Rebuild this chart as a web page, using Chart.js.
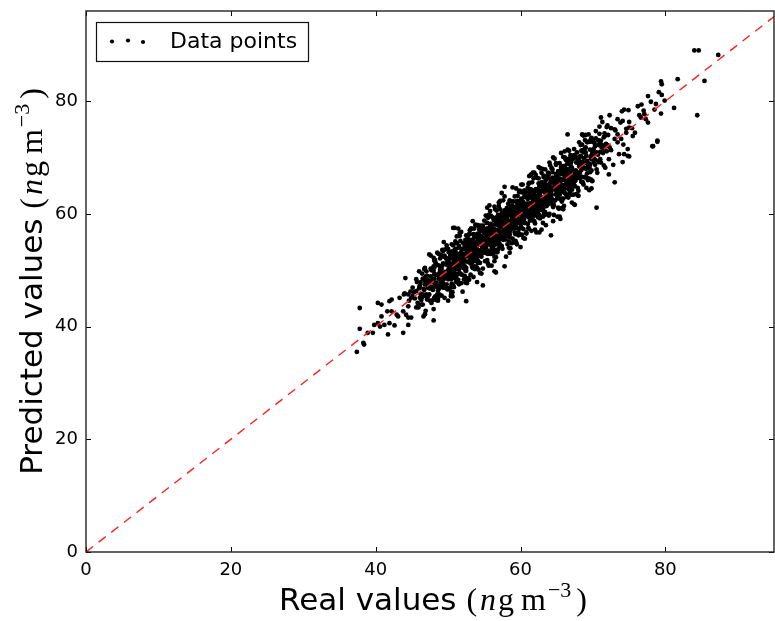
<!DOCTYPE html>
<html>
<head>
<meta charset="utf-8">
<script src="https://cdn.jsdelivr.net/npm/chart.js@4.4.1/dist/chart.umd.min.js"></script>
<style>
  html, body { margin: 0; padding: 0; background: #fff; }
  canvas { display: block; }
</style>
</head>
<body>
<canvas id="scatterChart" width="775" height="621"></canvas>
<script>
// axis ticks
const xTicks = [0, 20, 40, 60, 80];
const yTicks = [0, 20, 40, 60, 80];

// identity line y = x
const lineReal = [0, 95];
const linePredicted = [0, 95];

// low tail of the cloud
const tailReal = [
  37.4, 38.3, 38.4, 37.8, 37.8, 38.9, 39.6, 39.8, 40.3, 40.6,
  40.8, 41.7, 41.2, 41.9, 42.6, 41.6, 42.2, 42.9, 43.1, 42.2,
  43.3, 41.9, 43.8, 44.5, 44.5, 43.8, 44.1, 43.9, 44.5, 44.9,
  45.6, 46.3, 46.8, 48.0, 45.1, 45.6, 46.1, 46.8, 47.2, 46.5,
  47.4, 46.8, 47.0, 48.1, 48.8, 50.4, 40.8, 40.3,
  55.7, 50.7, 47.4, 50.6, 52.5, 54.8, 56.6, 57.8, 58.5, 59.4,
  52.9, 54.1, 53.0, 49.3
];
const tailPredicted = [
  35.5, 37.1, 36.8, 43.3, 39.6, 38.9, 38.9, 40.3, 40.6, 40.0,
  41.8, 38.6, 40.3, 40.6, 40.2, 42.7, 42.7, 42.1, 41.8, 44.8,
  45.1, 44.5, 42.7, 41.6, 40.3, 38.9, 48.6, 45.7, 45.7, 45.1,
  43.4, 43.9, 42.2, 41.1, 46.9, 46.3, 47.2, 47.5, 46.9, 45.7,
  45.7, 50.4, 49.8, 45.1, 45.7, 45.4, 43.9, 44.2,
  61.5, 57.5, 52.8, 45.4, 44.5, 47.3, 49.6, 50.7, 53.1, 54.9,
  48.3, 58.0, 57.1, 53.4
];

// main body of the cloud
const coreReal = [
  44.2, 44.8, 45.1, 44.5, 45.6, 44.9, 45.3, 44.0, 45.8, 44.6,
  46.1, 45.4, 46.7, 45.9, 47.0, 46.4, 45.7, 46.9, 47.3, 46.2,
  47.5, 48.1, 47.2, 47.8, 48.4, 47.6, 48.0, 48.7, 47.9, 48.3,
  48.9, 48.5, 49.2, 48.2, 49.5, 48.8, 49.0, 49.7, 48.6, 49.3,
  49.4, 50.1, 49.8, 50.3, 49.6, 50.0, 50.6, 49.9, 50.4, 49.1,
  50.7, 50.2, 51.0, 50.5, 51.3, 50.8, 51.1, 50.4, 51.6, 50.9,
  51.4, 51.8, 51.2, 52.0, 51.5, 52.3, 51.7, 51.9, 52.2, 51.3,
  52.6, 52.1, 52.9, 52.4, 53.2, 52.7, 53.0, 52.5, 53.4, 52.8,
  53.3, 53.9, 53.6, 54.1, 53.5, 54.4, 53.8, 54.0, 53.1, 54.3,
  54.6, 54.2, 55.0, 54.8, 55.3, 54.5, 55.1, 54.9, 55.4, 54.7,
  55.6, 55.2, 56.0, 55.8, 56.3, 55.5, 56.1, 55.9, 56.4, 55.7,
  56.5, 56.9, 57.2, 56.2, 57.0, 56.7, 57.4, 56.6, 57.1, 56.8,
  57.6, 58.0, 57.3, 58.2, 57.8, 58.4, 57.5, 58.1, 57.9, 58.5,
  58.7, 59.0, 58.3, 59.2, 58.9, 59.5, 58.6, 59.3, 58.8, 59.6,
  59.8, 60.1, 59.4, 60.3, 59.7, 60.5, 59.9, 60.2, 60.0, 60.6,
  60.7, 61.0, 60.4, 61.2, 60.8, 61.5, 60.9, 61.3, 61.1, 61.6,
  61.8, 62.1, 61.4, 62.3, 61.7, 62.5, 61.9, 62.2, 62.0, 62.6,
  62.8, 63.1, 62.4, 63.3, 62.7, 63.5, 62.9, 63.2, 63.0, 63.6,
  63.8, 64.1, 63.4, 64.3, 63.7, 64.5, 63.9, 64.2, 64.0, 64.6,
  64.8, 65.1, 64.4, 65.3, 64.7, 65.5, 64.9, 65.2, 65.0, 65.6,
  65.8, 66.1, 65.4, 66.3, 65.7, 66.5, 65.9, 66.2, 66.0, 66.6,
  66.8, 67.1, 66.4, 67.3, 66.7, 67.5, 66.9, 67.2, 67.0, 67.6,
  67.8, 68.1, 67.4, 68.3, 67.7, 68.5, 67.9, 68.2, 68.0, 68.6,
  68.8, 69.1, 68.4, 69.3, 68.7, 69.5, 68.9, 69.2, 69.0, 69.6,
  69.8, 70.1, 69.7, 70.4, 70.0, 70.6, 69.9, 70.3, 70.8, 71.0,
  71.2, 71.6, 71.9, 72.2, 71.4, 72.5, 71.7, 72.8, 72.0, 73.1,
  73.4, 73.8, 74.2, 74.6, 73.6, 75.0, 74.0, 75.4, 75.8, 76.2,
  46.3, 46.8, 47.1, 46.5, 47.4, 46.0, 46.9, 47.2, 46.6, 47.5,
  47.7, 48.2, 48.6, 47.9, 48.9, 48.4, 48.0, 48.7, 47.6, 49.0,
  49.2, 49.7, 50.2, 49.5, 50.5, 49.9, 50.3, 49.3, 50.0, 50.6,
  50.8, 51.2, 51.7, 51.0, 51.9, 51.4, 50.6, 51.8, 51.1, 52.0,
  52.3, 52.7, 53.1, 52.5, 53.4, 52.9, 53.2, 52.2, 53.0, 53.5,
  53.7, 54.1, 54.5, 53.9, 54.8, 54.3, 53.6, 54.7, 54.0, 55.0,
  55.2, 55.7, 56.1, 55.4, 56.4, 55.9, 55.1, 56.3, 55.6, 56.5,
  56.7, 57.1, 57.6, 56.9, 57.8, 57.3, 56.6, 57.7, 57.0, 58.0,
  58.2, 58.7, 59.1, 58.4, 59.4, 58.9, 58.1, 59.3, 58.6, 59.5,
  59.7, 60.2, 60.6, 59.9, 60.9, 60.4, 59.6, 60.8, 60.1, 61.0,
  61.2, 61.7, 62.1, 61.4, 62.4, 61.9, 61.1, 62.3, 61.6, 62.5,
  62.7, 63.2, 63.6, 62.9, 63.9, 63.4, 62.6, 63.8, 63.1, 64.0,
  64.2, 64.7, 65.1, 64.4, 65.4, 64.9, 64.1, 65.3, 64.6, 65.5,
  65.7, 66.2, 66.6, 65.9, 66.9, 66.4, 65.6, 66.8, 66.1, 67.0,
  67.2, 67.7, 68.1, 67.4, 68.4, 67.9, 67.1, 68.3, 67.6, 68.5,
  68.8, 69.3, 69.7, 69.0, 70.0, 69.5, 68.7, 69.9, 69.2, 70.3,
  48.1, 48.5, 48.9, 49.3, 48.3, 48.7, 49.1, 49.5, 48.6, 49.0,
  49.6, 50.0, 50.4, 50.8, 49.8, 50.2, 50.6, 51.0, 50.1, 50.5,
  51.1, 51.5, 51.9, 52.3, 51.3, 51.7, 52.1, 52.5, 51.6, 52.0,
  52.6, 53.0, 53.4, 53.8, 52.8, 53.2, 53.6, 54.0, 53.1, 53.5,
  54.1, 54.5, 54.9, 55.3, 54.3, 54.7, 55.1, 55.5, 54.6, 55.0,
  55.6, 56.0, 56.4, 56.8, 55.8, 56.2, 56.6, 57.0, 56.1, 56.5,
  57.1, 57.5, 57.9, 58.3, 57.3, 57.7, 58.1, 58.5, 57.6, 58.0,
  58.6, 59.0, 59.4, 59.8, 58.8, 59.2, 59.6, 60.0, 59.1, 59.5,
  60.1, 60.5, 60.9, 61.3, 60.3, 60.7, 61.1, 61.5, 60.6, 61.0,
  61.6, 62.0, 62.4, 62.8, 61.8, 62.2, 62.6, 63.0, 62.1, 62.5,
  63.1, 63.5, 63.9, 64.3, 63.3, 63.7, 64.1, 64.5, 63.6, 64.0,
  64.6, 65.0, 65.4, 65.8, 64.8, 65.2, 65.6, 66.0, 65.1, 65.5,
  66.1, 66.5, 66.9, 67.3, 66.3, 66.7, 67.1, 67.5, 66.6, 67.0,
  67.6, 68.0, 68.4, 68.8, 67.8, 68.2, 68.6, 69.0, 68.1, 68.5,
  54.4, 55.2, 55.8, 54.8, 55.5, 56.2, 54.2, 55.0, 55.9, 56.4,
  57.2, 58.4, 57.8, 58.9, 57.4, 58.2, 59.3, 57.9, 58.6, 59.1,
  60.4, 61.2, 61.8, 60.8, 61.5, 62.2, 60.2, 61.0, 61.9, 62.4,
  52.4, 53.2, 53.8, 52.8, 53.5, 54.2, 52.2, 53.0, 53.9, 54.4
];
const corePredicted = [
  42.1, 46.2, 45.4, 43.6, 48.4, 41.6, 46.1, 45.9, 44.2, 44.6,
  47.2, 45.0, 50.2, 43.4, 47.6, 45.2, 47.9, 42.8, 47.5, 47.9,
  46.8, 50.5, 45.3, 48.3, 45.4, 48.9, 52.2, 48.5, 46.5, 51.2,
  49.8, 45.7, 50.8, 47.7, 52.6, 47.1, 49.1, 52.2, 45.0, 49.0,
  48.4, 50.8, 47.5, 52.3, 49.5, 53.8, 49.1, 50.9, 45.6, 49.5,
  53.0, 49.1, 51.6, 47.3, 52.5, 50.2, 53.8, 48.4, 56.6, 50.0,
  49.3, 53.2, 51.5, 51.1, 54.3, 49.0, 52.5, 53.8, 50.6, 51.3,
  53.7, 51.7, 56.4, 49.9, 53.8, 51.5, 55.2, 48.4, 53.6, 54.5,
  52.6, 56.3, 51.7, 54.6, 50.5, 55.7, 58.0, 53.8, 51.7, 57.2,
  55.5, 51.4, 56.6, 54.3, 58.4, 52.8, 55.2, 57.4, 51.8, 54.4,
  54.6, 55.9, 53.7, 57.8, 56.2, 59.3, 54.6, 56.9, 51.6, 56.1,
  58.8, 55.8, 57.8, 53.0, 58.2, 56.1, 60.1, 54.6, 62.1, 55.9,
  55.5, 59.4, 57.6, 57.3, 60.6, 55.1, 58.3, 60.0, 56.3, 58.5,
  59.8, 58.6, 61.8, 56.7, 59.5, 58.3, 60.8, 55.2, 59.0, 61.3,
  59.1, 62.5, 57.5, 60.8, 56.7, 61.8, 64.1, 60.0, 58.6, 63.5,
  61.6, 58.2, 62.0, 60.7, 63.9, 59.8, 61.0, 63.8, 57.5, 61.3,
  60.8, 62.8, 59.1, 64.3, 61.6, 66.3, 60.4, 63.2, 57.2, 63.0,
  65.1, 62.0, 63.0, 60.1, 63.9, 62.9, 65.6, 61.2, 68.0, 62.7,
  61.7, 65.5, 63.7, 63.4, 66.5, 61.2, 64.7, 66.1, 62.4, 64.6,
  65.9, 64.7, 67.9, 62.8, 65.3, 64.3, 67.1, 61.1, 65.2, 67.3,
  65.1, 68.5, 63.5, 66.8, 62.7, 67.8, 70.1, 66.0, 64.6, 69.5,
  67.7, 64.3, 68.0, 66.8, 69.8, 65.8, 67.0, 69.7, 63.4, 67.3,
  66.8, 68.8, 65.1, 70.3, 67.6, 72.3, 66.4, 69.2, 63.2, 69.0,
  71.1, 68.0, 69.0, 66.1, 69.9, 68.9, 71.6, 67.2, 74.0, 68.7,
  67.7, 71.5, 70.0, 69.5, 72.8, 67.3, 70.7, 72.2, 69.2, 71.0,
  72.3, 71.2, 75.4, 69.7, 72.0, 71.3, 73.9, 68.7, 72.2, 74.8,
  72.7, 76.2, 72.3, 75.1, 70.6, 76.3, 78.2, 75.2, 74.4, 79.1,
  45.3, 47.5, 44.8, 48.5, 47.3, 49.8, 45.4, 48.2, 41.8, 47.9,
  50.0, 47.1, 49.2, 44.7, 50.1, 47.8, 50.7, 46.7, 52.6, 48.1,
  47.1, 51.1, 50.5, 48.6, 53.3, 46.6, 51.1, 51.2, 48.4, 50.6,
  51.9, 50.8, 55.2, 48.5, 52.5, 50.2, 52.8, 47.7, 51.3, 53.7,
  51.6, 55.1, 51.2, 53.0, 50.4, 54.2, 57.4, 52.0, 51.6, 56.4,
  54.6, 51.3, 56.1, 53.4, 57.9, 52.6, 53.7, 57.2, 50.4, 54.7,
  54.2, 56.4, 53.8, 57.4, 56.3, 59.7, 53.6, 57.3, 50.8, 56.9,
  59.0, 56.0, 58.2, 53.7, 59.0, 56.7, 59.3, 55.7, 62.0, 57.1,
  56.1, 60.1, 59.4, 57.5, 62.2, 55.6, 58.9, 61.2, 57.0, 59.5,
  60.8, 59.8, 64.1, 57.4, 61.5, 59.2, 61.8, 56.7, 60.3, 62.7,
  60.5, 64.1, 60.2, 61.9, 59.4, 63.2, 65.3, 62.1, 60.2, 65.4,
  63.6, 60.4, 65.2, 62.4, 67.0, 61.7, 62.7, 66.3, 59.5, 63.7,
  63.2, 65.4, 62.8, 66.4, 65.3, 68.7, 62.6, 66.3, 59.8, 65.9,
  68.0, 65.1, 67.2, 62.7, 68.1, 65.8, 68.3, 64.8, 71.1, 66.1,
  65.1, 69.1, 68.4, 66.5, 71.2, 64.6, 67.9, 70.2, 66.0, 68.5,
  69.9, 68.9, 73.2, 66.5, 70.6, 68.3, 70.9, 65.8, 69.4, 72.0,
  48.5, 47.3, 50.7, 49.0, 49.2, 46.7, 50.2, 48.8, 50.9, 47.5,
  49.1, 51.5, 48.6, 51.0, 51.9, 49.3, 51.2, 48.6, 51.3, 50.4,
  52.4, 51.3, 50.8, 54.9, 50.7, 52.0, 50.4, 54.2, 49.4, 52.7,
  53.0, 51.8, 55.2, 53.5, 53.7, 51.2, 54.7, 53.3, 55.4, 52.0,
  53.6, 56.0, 53.1, 55.5, 56.4, 53.8, 55.7, 53.1, 55.8, 54.9,
  56.9, 55.8, 55.3, 59.4, 55.2, 56.5, 54.9, 58.7, 53.9, 57.2,
  57.5, 56.3, 59.7, 58.0, 58.2, 55.7, 59.2, 57.8, 59.9, 56.5,
  58.1, 60.5, 57.6, 60.0, 60.9, 58.3, 60.2, 57.6, 60.3, 59.4,
  61.4, 60.3, 59.8, 63.9, 59.7, 61.0, 59.4, 63.2, 58.4, 61.7,
  62.0, 60.8, 64.2, 62.5, 62.7, 60.2, 63.7, 62.3, 64.4, 61.0,
  62.6, 65.0, 62.1, 64.5, 65.4, 62.8, 64.7, 62.1, 64.8, 63.9,
  65.9, 64.8, 64.3, 68.4, 64.2, 65.5, 63.9, 67.7, 62.9, 66.2,
  66.5, 65.3, 68.7, 67.0, 67.2, 64.7, 68.2, 66.8, 68.9, 65.5,
  67.1, 69.5, 66.6, 69.0, 69.9, 67.3, 69.2, 66.6, 69.3, 68.4,
  54.8, 54.0, 57.6, 54.5, 56.4, 54.2, 55.3, 54.3, 58.2, 54.9,
  56.7, 59.9, 56.0, 59.1, 59.5, 57.3, 59.9, 55.5, 59.8, 59.0,
  61.7, 61.0, 60.7, 63.4, 60.9, 62.5, 58.5, 62.7, 59.7, 63.1,
  53.7, 53.0, 52.7, 55.4, 52.9, 54.5, 50.5, 54.7, 51.7, 55.1
];

// the nearly solid centre of the band
const denseReal = [
  46.0, 46.3, 46.6, 46.9, 46.2, 46.5, 46.8, 46.1, 46.4, 46.7,
  47.0, 47.3, 47.6, 47.9, 47.2, 47.5, 47.8, 47.1, 47.4, 47.7,
  48.0, 48.3, 48.6, 48.9, 48.2, 48.5, 48.8, 48.1, 48.4, 48.7,
  49.0, 49.3, 49.6, 49.9, 49.2, 49.5, 49.8, 49.1, 49.4, 49.7,
  50.0, 50.3, 50.6, 50.9, 50.2, 50.5, 50.8, 50.1, 50.4, 50.7,
  51.0, 51.3, 51.6, 51.9, 51.2, 51.5, 51.8, 51.1, 51.4, 51.7,
  52.0, 52.3, 52.6, 52.9, 52.2, 52.5, 52.8, 52.1, 52.4, 52.7,
  53.0, 53.3, 53.6, 53.9, 53.2, 53.5, 53.8, 53.1, 53.4, 53.7,
  54.0, 54.3, 54.6, 54.9, 54.2, 54.5, 54.8, 54.1, 54.4, 54.7,
  55.0, 55.3, 55.6, 55.9, 55.2, 55.5, 55.8, 55.1, 55.4, 55.7,
  56.0, 56.3, 56.6, 56.9, 56.2, 56.5, 56.8, 56.1, 56.4, 56.7,
  57.0, 57.3, 57.6, 57.9, 57.2, 57.5, 57.8, 57.1, 57.4, 57.7,
  58.0, 58.3, 58.6, 58.9, 58.2, 58.5, 58.8, 58.1, 58.4, 58.7,
  59.0, 59.3, 59.6, 59.9, 59.2, 59.5, 59.8, 59.1, 59.4, 59.7,
  60.0, 60.3, 60.6, 60.9, 60.2, 60.5, 60.8, 60.1, 60.4, 60.7,
  61.0, 61.3, 61.6, 61.9, 61.2, 61.5, 61.8, 61.1, 61.4, 61.7,
  62.0, 62.3, 62.6, 62.9, 62.2, 62.5, 62.8, 62.1, 62.4, 62.7,
  63.0, 63.3, 63.6, 63.9, 63.2, 63.5, 63.8, 63.1, 63.4, 63.7,
  64.0, 64.3, 64.6, 64.9, 64.2, 64.5, 64.8, 64.1, 64.4, 64.7,
  65.0, 65.3, 65.6, 65.9, 65.2, 65.5, 65.8, 65.1, 65.4, 65.7,
  66.0, 66.3, 66.6, 66.9, 66.2, 66.5, 66.8, 66.1, 66.4, 66.7,
  67.0, 67.3, 67.6, 67.9, 67.2, 67.5, 67.8, 67.1, 67.4, 67.7,
  68.0, 68.3, 68.6, 68.9, 68.2, 68.5, 68.8, 68.1, 68.4, 68.7,
  69.0, 69.3, 69.6, 69.9, 69.2, 69.5, 69.8, 69.1, 69.4, 69.7,
  70.0, 70.3, 70.6, 70.9, 70.2, 70.5, 70.8, 70.1, 70.4, 70.7,
  71.0, 71.3, 71.6, 71.9, 71.2, 71.5, 71.8, 71.1, 71.4, 71.7,
  50.7, 50.2, 50.9, 50.4, 50.1, 50.6, 50.3, 50.8, 50.5, 50.0,
  51.7, 51.2, 51.9, 51.4, 51.1, 51.6, 51.3, 51.8, 51.5, 51.0,
  52.7, 52.2, 52.9, 52.4, 52.1, 52.6, 52.3, 52.8, 52.5, 52.0,
  53.7, 53.2, 53.9, 53.4, 53.1, 53.6, 53.3, 53.8, 53.5, 53.0,
  54.7, 54.2, 54.9, 54.4, 54.1, 54.6, 54.3, 54.8, 54.5, 54.0,
  55.7, 55.2, 55.9, 55.4, 55.1, 55.6, 55.3, 55.8, 55.5, 55.0,
  56.7, 56.2, 56.9, 56.4, 56.1, 56.6, 56.3, 56.8, 56.5, 56.0,
  57.7, 57.2, 57.9, 57.4, 57.1, 57.6, 57.3, 57.8, 57.5, 57.0,
  58.7, 58.2, 58.9, 58.4, 58.1, 58.6, 58.3, 58.8, 58.5, 58.0,
  59.7, 59.2, 59.9, 59.4, 59.1, 59.6, 59.3, 59.8, 59.5, 59.0,
  60.7, 60.2, 60.9, 60.4, 60.1, 60.6, 60.3, 60.8, 60.5, 60.0,
  61.7, 61.2, 61.9, 61.4, 61.1, 61.6, 61.3, 61.8, 61.5, 61.0,
  62.7, 62.2, 62.9, 62.4, 62.1, 62.6, 62.3, 62.8, 62.5, 62.0,
  63.7, 63.2, 63.9, 63.4, 63.1, 63.6, 63.3, 63.8, 63.5, 63.0,
  64.7, 64.2, 64.9, 64.4, 64.1, 64.6, 64.3, 64.8, 64.5, 64.0,
  65.7, 65.2, 65.9, 65.4, 65.1, 65.6, 65.3, 65.8, 65.5, 65.0,
  66.7, 66.2, 66.9, 66.4, 66.1, 66.6, 66.3, 66.8, 66.5, 66.0
];
const densePredicted = [
  46.8, 44.7, 46.7, 48.9, 45.8, 43.9, 48.2, 45.1, 49.4, 46.5,
  45.7, 47.8, 50.3, 47.1, 48.2, 44.6, 48.0, 49.0, 46.8, 44.2,
  49.9, 47.4, 46.4, 49.6, 51.8, 47.1, 48.7, 49.3, 45.3, 49.2,
  49.8, 47.7, 49.7, 51.9, 48.8, 46.9, 51.2, 48.1, 52.4, 49.5,
  48.7, 50.8, 53.3, 50.1, 51.2, 47.6, 51.0, 52.0, 49.8, 47.2,
  52.9, 50.4, 49.4, 52.6, 54.8, 50.1, 51.7, 52.3, 48.3, 52.2,
  52.8, 50.7, 52.7, 54.9, 51.8, 49.9, 54.2, 51.1, 55.4, 52.5,
  51.7, 53.8, 56.3, 53.1, 54.2, 50.6, 54.0, 55.0, 52.8, 50.2,
  55.9, 53.4, 52.4, 55.6, 57.8, 53.1, 54.7, 55.3, 51.3, 55.2,
  55.8, 53.7, 55.7, 57.9, 54.8, 52.9, 57.2, 54.1, 58.4, 55.5,
  54.7, 56.8, 59.3, 56.1, 57.2, 53.6, 57.0, 58.0, 55.8, 53.2,
  58.9, 56.4, 55.4, 58.6, 60.8, 56.1, 57.7, 58.3, 54.3, 58.2,
  58.8, 56.7, 58.7, 60.9, 57.8, 55.9, 60.2, 57.1, 61.4, 58.5,
  57.7, 59.8, 62.3, 59.1, 60.2, 56.6, 60.0, 61.0, 58.8, 56.2,
  61.9, 59.4, 58.4, 61.6, 63.8, 59.1, 60.7, 61.3, 57.3, 61.2,
  61.8, 59.7, 61.7, 63.9, 60.8, 58.9, 63.2, 60.1, 64.4, 61.5,
  60.7, 62.8, 65.3, 62.1, 63.2, 59.6, 63.0, 64.0, 61.8, 59.2,
  64.9, 62.4, 61.4, 64.6, 66.8, 62.1, 63.7, 64.3, 60.3, 64.2,
  64.8, 62.7, 64.7, 66.9, 63.8, 61.9, 66.2, 63.1, 67.4, 64.5,
  63.7, 65.8, 68.3, 65.1, 66.2, 62.6, 66.0, 67.0, 64.8, 62.2,
  67.9, 65.4, 64.4, 67.6, 69.8, 65.1, 66.7, 67.3, 63.3, 67.2,
  67.8, 65.7, 67.7, 69.9, 66.8, 64.9, 69.2, 66.1, 70.4, 67.5,
  66.7, 68.8, 71.3, 68.1, 69.2, 65.6, 69.0, 70.0, 67.8, 65.2,
  70.9, 68.4, 67.4, 70.6, 72.8, 68.1, 69.7, 70.3, 66.3, 70.2,
  70.8, 68.7, 70.7, 72.9, 69.8, 67.9, 72.2, 69.1, 73.4, 70.5,
  69.7, 71.8, 74.3, 71.1, 72.2, 68.6, 72.0, 73.0, 70.8, 68.2,
  51.0, 49.4, 52.0, 48.5, 50.7, 52.8, 49.9, 49.5, 52.1, 50.0,
  51.1, 53.0, 51.7, 52.3, 48.7, 52.0, 52.6, 50.8, 54.0, 49.3,
  53.7, 52.3, 51.4, 54.4, 51.4, 52.5, 53.9, 53.3, 50.4, 52.8,
  54.0, 52.4, 55.0, 51.5, 53.7, 55.8, 52.9, 52.5, 55.1, 53.0,
  54.1, 56.0, 54.7, 55.3, 51.7, 55.0, 55.6, 53.8, 57.0, 52.3,
  56.7, 55.3, 54.4, 57.4, 54.4, 55.5, 56.9, 56.3, 53.4, 55.8,
  57.0, 55.4, 58.0, 54.5, 56.7, 58.8, 55.9, 55.5, 58.1, 56.0,
  57.1, 59.0, 57.7, 58.3, 54.7, 58.0, 58.6, 56.8, 60.0, 55.3,
  59.7, 58.3, 57.4, 60.4, 57.4, 58.5, 59.9, 59.3, 56.4, 58.8,
  60.0, 58.4, 61.0, 57.5, 59.7, 61.8, 58.9, 58.5, 61.1, 59.0,
  60.1, 62.0, 60.7, 61.3, 57.7, 61.0, 61.6, 59.8, 63.0, 58.3,
  62.7, 61.3, 60.4, 63.4, 60.4, 61.5, 62.9, 62.3, 59.4, 61.8,
  63.0, 61.4, 64.0, 60.5, 62.7, 64.8, 61.9, 61.5, 64.1, 62.0,
  63.1, 65.0, 63.7, 64.3, 60.7, 64.0, 64.6, 62.8, 66.0, 61.3,
  65.7, 64.3, 63.4, 66.4, 63.4, 64.5, 65.9, 65.3, 62.4, 64.8,
  66.0, 64.4, 67.0, 63.5, 65.7, 67.8, 64.9, 64.5, 67.1, 65.0,
  66.1, 68.0, 66.7, 67.3, 63.7, 67.0, 67.6, 65.8, 69.0, 64.3
];

// looser points along the edges of the band
const edgeReal = [
  48.1, 48.6, 48.3, 48.8, 48.5, 48.0, 48.9, 48.4, 48.7, 48.2,
  49.1, 49.6, 49.3, 49.8, 49.5, 49.0, 49.9, 49.4, 49.7, 49.2,
  50.1, 50.6, 50.3, 50.8, 50.5, 50.0, 50.9, 50.4, 50.7, 50.2,
  51.1, 51.6, 51.3, 51.8, 51.5, 51.0, 51.9, 51.4, 51.7, 51.2,
  52.1, 52.6, 52.3, 52.8, 52.5, 52.0, 52.9, 52.4, 52.7, 52.2,
  53.1, 53.6, 53.3, 53.8, 53.5, 53.0, 53.9, 53.4, 53.7, 53.2,
  54.1, 54.6, 54.3, 54.8, 54.5, 54.0, 54.9, 54.4, 54.7, 54.2,
  55.1, 55.6, 55.3, 55.8, 55.5, 55.0, 55.9, 55.4, 55.7, 55.2,
  56.1, 56.6, 56.3, 56.8, 56.5, 56.0, 56.9, 56.4, 56.7, 56.2,
  57.1, 57.6, 57.3, 57.8, 57.5, 57.0, 57.9, 57.4, 57.7, 57.2,
  58.1, 58.6, 58.3, 58.8, 58.5, 58.0, 58.9, 58.4, 58.7, 58.2,
  59.1, 59.6, 59.3, 59.8, 59.5, 59.0, 59.9, 59.4, 59.7, 59.2,
  60.1, 60.6, 60.3, 60.8, 60.5, 60.0, 60.9, 60.4, 60.7, 60.2,
  61.1, 61.6, 61.3, 61.8, 61.5, 61.0, 61.9, 61.4, 61.7, 61.2,
  62.1, 62.6, 62.3, 62.8, 62.5, 62.0, 62.9, 62.4, 62.7, 62.2,
  63.1, 63.6, 63.3, 63.8, 63.5, 63.0, 63.9, 63.4, 63.7, 63.2,
  64.1, 64.6, 64.3, 64.8, 64.5, 64.0, 64.9, 64.4, 64.7, 64.2,
  65.1, 65.6, 65.3, 65.8, 65.5, 65.0, 65.9, 65.4, 65.7, 65.2,
  66.1, 66.6, 66.3, 66.8, 66.5, 66.0, 66.9, 66.4, 66.7, 66.2,
  67.1, 67.6, 67.3, 67.8, 67.5, 67.0, 67.9, 67.4, 67.7, 67.2,
  68.1, 68.6, 68.3, 68.8, 68.5, 68.0, 68.9, 68.4, 68.7, 68.2,
  69.1, 69.6, 69.3, 69.8, 69.5, 69.0, 69.9, 69.4, 69.7, 69.2
];
const edgePredicted = [
  51.7, 44.6, 51.2, 45.5, 53.1, 43.1, 52.1, 44.7, 52.9, 45.3,
  45.5, 53.7, 46.9, 54.4, 45.1, 52.7, 46.8, 55.0, 47.0, 53.6,
  53.2, 46.1, 52.7, 47.0, 54.6, 44.6, 53.6, 46.2, 54.4, 46.8,
  47.9, 56.1, 49.3, 56.8, 47.5, 55.1, 49.2, 57.4, 49.4, 56.0,
  54.8, 47.7, 54.3, 48.6, 56.2, 46.2, 55.2, 47.8, 56.0, 48.4,
  49.2, 57.4, 50.6, 58.1, 48.8, 56.4, 50.5, 58.7, 50.7, 57.3,
  56.5, 49.4, 56.0, 50.3, 57.9, 47.9, 56.9, 49.5, 57.7, 50.1,
  51.6, 59.8, 53.0, 60.5, 51.2, 58.8, 52.9, 61.1, 53.1, 59.7,
  59.4, 52.3, 58.9, 53.2, 60.8, 50.8, 59.8, 52.4, 60.6, 53.0,
  54.2, 62.4, 55.6, 63.1, 53.8, 61.4, 55.5, 63.7, 55.7, 62.3,
  61.0, 53.9, 60.5, 54.8, 62.4, 52.4, 61.4, 54.0, 62.2, 54.6,
  55.0, 63.2, 56.4, 63.9, 54.6, 62.2, 56.3, 64.5, 56.5, 63.1,
  62.7, 55.6, 62.2, 56.5, 64.1, 54.1, 63.1, 55.7, 63.9, 56.3,
  57.4, 65.6, 58.8, 66.3, 57.0, 64.6, 58.7, 66.9, 58.9, 65.5,
  66.9, 59.8, 66.4, 60.7, 68.3, 58.3, 67.3, 59.9, 68.1, 60.5,
  58.4, 66.6, 59.8, 67.3, 58.0, 65.6, 59.7, 67.9, 59.9, 66.5,
  68.6, 61.5, 68.1, 62.4, 70.0, 60.0, 69.0, 61.6, 69.8, 62.2,
  59.5, 67.7, 60.9, 68.4, 59.1, 66.7, 60.8, 69.0, 61.0, 67.6,
  70.0, 62.9, 69.5, 63.8, 71.4, 61.4, 70.4, 63.0, 71.2, 63.6,
  62.0, 70.2, 63.4, 70.9, 61.6, 69.2, 63.3, 71.5, 63.5, 70.1,
  72.7, 65.6, 72.2, 66.5, 74.1, 64.1, 73.1, 65.7, 73.9, 66.3,
  64.6, 72.8, 66.0, 73.5, 64.2, 71.8, 65.9, 74.1, 66.1, 72.7
];

// upper part and high outliers
const upperReal = [
  66.5, 68.6, 70.4, 78.2, 78.9, 74.3, 74.1, 74.8, 73.0, 69.8,
  70.5, 65.6, 64.0, 61.7, 61.2, 57.8, 60.1, 56.4, 53.2, 50.9,
  64.2, 62.6, 64.5, 65.4, 56.4,
  72.2, 71.1, 72.3, 61.5, 61.9, 60.3, 58.9, 67.4, 62.9, 62.2,
  84.0, 84.6, 87.3, 81.7, 85.4, 79.4, 79.5, 79.1, 79.5, 77.6,
  78.0, 78.7, 79.9, 81.2, 84.4, 76.7, 77.0, 77.1, 76.4, 76.6,
  74.3, 74.9, 78.5, 79.4, 77.3, 77.6, 72.3, 73.4, 74.1, 71.1,
  71.3, 70.9, 72.0, 72.5, 73.0, 75.0, 74.6, 75.5, 73.4, 73.0,
  73.9, 78.9, 78.3, 74.8, 75.0,
  69.6, 70.2, 70.7, 71.5, 71.8, 70.5, 71.2, 69.9, 72.1, 70.9
];
const upperPredicted = [
  74.1, 74.0, 74.7, 72.0, 72.8, 70.6, 69.2, 70.3, 65.6, 64.5,
  61.1, 70.8, 69.1, 67.3, 66.7, 64.8, 65.2, 61.3, 57.4, 57.5,
  56.2, 56.7, 58.7, 59.5, 49.8,
  67.0, 69.1, 71.8, 67.0, 67.3, 65.2, 64.7, 61.7, 57.2, 56.7,
  89.0, 89.0, 88.2, 83.9, 83.6, 83.5, 83.0, 81.6, 81.1, 80.9,
  79.9, 79.5, 80.1, 78.8, 77.5, 79.4, 78.3, 77.7, 77.5, 77.1,
  78.5, 78.4, 78.5, 77.8, 76.8, 76.2, 77.5, 76.8, 76.5, 77.1,
  76.3, 75.5, 75.7, 75.2, 75.0, 75.3, 74.4, 73.8, 74.1, 73.3,
  73.3, 73.0, 72.0, 71.5, 70.2,
  71.4, 72.6, 73.1, 73.6, 72.4, 70.9, 71.8, 72.9, 74.0, 74.2
];

const realValues = tailReal.concat(coreReal, denseReal, edgeReal, upperReal);
const predictedValues = tailPredicted.concat(corePredicted, densePredicted, edgePredicted, upperPredicted);
const points = realValues.map((v, i) => ({ x: v, y: predictedValues[i] }));
const identity = lineReal.map((v, i) => ({ x: v, y: linePredicted[i] }));

// mathtext-like unit part of the axis titles
const unitParts = [
  { t: '(', f: '32px "Liberation Serif"', gap: 3 },
  { t: 'n', f: 'italic 32px "Liberation Serif"', gap: 2 },
  { t: 'g', f: '32px "Liberation Serif"', gap: 7 },
  { t: 'm', f: '32px "Liberation Serif"', gap: 2 },
  { t: '\u22123', f: '22px "Liberation Serif"', dy: -13, gap: 5 },
  { t: ')', f: '32px "Liberation Serif"', gap: 0 }
];

function drawTitle(ctx, label, cx, cy, angle) {
  const parts = [{ t: label + ' ', f: '31px "DejaVu Sans"', gap: 0 }].concat(unitParts);
  let total = 0;
  const widths = parts.map(p => {
    ctx.font = p.f;
    const w = ctx.measureText(p.t).width;
    total += w + p.gap;
    return w;
  });
  ctx.save();
  ctx.translate(cx, cy);
  ctx.rotate(angle);
  ctx.fillStyle = '#000';
  ctx.textAlign = 'left';
  ctx.textBaseline = 'alphabetic';
  let pos = -total / 2;
  parts.forEach((p, i) => {
    ctx.font = p.f;
    ctx.fillText(p.t, pos, p.dy || 0);
    pos += widths[i] + p.gap;
  });
  ctx.restore();
}

// frame, inward ticks, legend and titles (matplotlib look)
const frameAndText = {
  id: 'frameAndText',
  afterDraw(chart) {
    const ctx = chart.ctx;
    const a = chart.chartArea;
    const xs = chart.scales.x;
    const ys = chart.scales.y;
    ctx.save();
    ctx.strokeStyle = '#000';
    ctx.lineWidth = 1;
    ctx.beginPath();
    xTicks.forEach(v => {
      const px = Math.round(xs.getPixelForValue(v)) + 0.5;
      ctx.moveTo(px, a.bottom); ctx.lineTo(px, a.bottom - 5);
      ctx.moveTo(px, a.top); ctx.lineTo(px, a.top + 5);
    });
    yTicks.forEach(v => {
      const py = Math.round(ys.getPixelForValue(v)) + 0.5;
      ctx.moveTo(a.left, py); ctx.lineTo(a.left + 5, py);
      ctx.moveTo(a.right, py); ctx.lineTo(a.right - 5, py);
    });
    ctx.stroke();

    ctx.strokeStyle = '#222';
    ctx.lineWidth = 1.4;
    ctx.strokeRect(a.left, a.top, a.right - a.left, a.bottom - a.top);

    // legend
    ctx.lineWidth = 1.2;
    ctx.strokeStyle = '#111';
    ctx.strokeRect(96.5, 22.5, 212, 39);
    ctx.fillStyle = '#000';
    [[112, 41.5], [128, 40.5], [143, 42]].forEach(d => {
      ctx.beginPath();
      ctx.arc(d[0], d[1], 2.1, 0, Math.PI * 2);
      ctx.fill();
    });
    ctx.font = '22px "DejaVu Sans"';
    ctx.textAlign = 'left';
    ctx.textBaseline = 'alphabetic';
    ctx.fillText('Data points', 170, 48);
    ctx.restore();

    drawTitle(ctx, 'Real values', (a.left + a.right) / 2 + 3, 610, 0);
    drawTitle(ctx, 'Predicted values', 42, (a.top + a.bottom) / 2, -Math.PI / 2);
  }
};

const ctx = document.getElementById('scatterChart').getContext('2d');
const chart = new Chart(ctx, {
  type: 'scatter',
  data: {
    datasets: [
      {
        type: 'line',
        label: 'y = x',
        data: identity,
        borderColor: '#ff1f1f',
        borderWidth: 1.4,
        borderDash: [9, 7],
        pointRadius: 0,
        fill: false,
        order: 0
      },
      {
        label: 'Data points',
        data: points,
        backgroundColor: '#000',
        borderWidth: 0,
        pointRadius: 2.4,
        order: 1
      }
    ]
  },
  options: {
    responsive: false,
    animation: false,
    layout: { autoPadding: false, padding: { top: 11, right: 1, left: 0, bottom: 0 } },
    plugins: {
      legend: { display: false },
      tooltip: { enabled: false }
    },
    scales: {
      x: {
        type: 'linear',
        min: 0,
        max: 95,
        grid: { display: false, drawTicks: false },
        border: { display: false },
        ticks: { color: '#000', padding: 8, maxRotation: 0, font: { family: 'DejaVu Sans', size: 18 } },
        afterBuildTicks: s => { s.ticks = xTicks.map(v => ({ value: v })); },
        afterFit: s => { s.height = 69; s.paddingLeft = 0; s.paddingRight = 0; }
      },
      y: {
        type: 'linear',
        min: 0,
        max: 96,
        grid: { display: false, drawTicks: false },
        border: { display: false },
        ticks: { color: '#000', padding: 8, font: { family: 'DejaVu Sans', size: 18 } },
        afterBuildTicks: s => { s.ticks = yTicks.map(v => ({ value: v })); },
        afterFit: s => { s.width = 86; s.paddingTop = 0; s.paddingBottom = 0; }
      }
    }
  },
  plugins: [frameAndText]
});
</script>
</body>
</html>
